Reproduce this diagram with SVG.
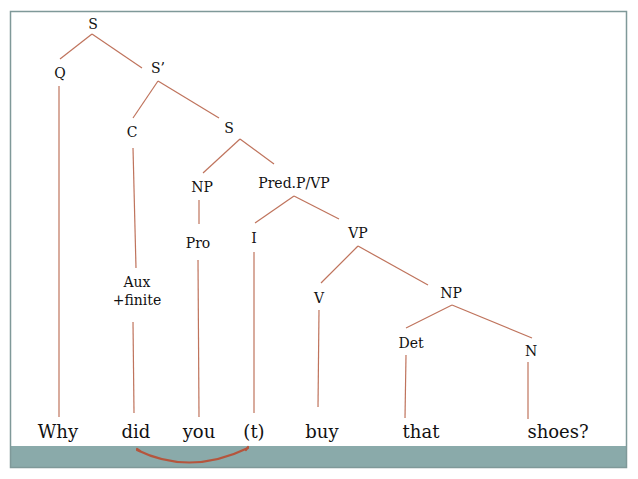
<svg xmlns="http://www.w3.org/2000/svg" width="638" height="479" viewBox="0 0 638 479">
<style>
.frame{fill:none;stroke:#7f9999;stroke-width:1.5}
.band{fill:#8aaaaa}
.edge{stroke:#bf735c;stroke-width:1.2;fill:none}
.lbl{font-family:"DejaVu Serif","Liberation Serif",serif;font-size:14px;fill:#111;text-anchor:middle}
.word{font-family:"DejaVu Serif","Liberation Serif",serif;font-size:18px;fill:#111;text-anchor:middle}
.move{stroke:#b5553d;stroke-width:2.2;fill:none;stroke-linecap:round}
</style>
<rect x="0" y="0" width="638" height="479" fill="#fff"/>
<rect class="band" x="10" y="446" width="617" height="22"/>
<rect class="frame" x="10.5" y="11.5" width="616" height="456"/>
<g id="connectors">
<line class="edge" x1="92" y1="34" x2="60" y2="59"/>
<line class="edge" x1="92" y1="34" x2="142" y2="68"/>
<line class="edge" x1="158" y1="81" x2="133" y2="118"/>
<line class="edge" x1="158" y1="81" x2="219" y2="118"/>
<line class="edge" x1="240" y1="139" x2="203" y2="173"/>
<line class="edge" x1="240" y1="139" x2="274" y2="164"/>
<line class="edge" x1="199" y1="200" x2="199" y2="224"/>
<line class="edge" x1="294" y1="196" x2="255" y2="223"/>
<line class="edge" x1="294" y1="196" x2="339" y2="219"/>
<line class="edge" x1="358" y1="246" x2="321" y2="283"/>
<line class="edge" x1="358" y1="246" x2="428" y2="285"/>
<line class="edge" x1="452" y1="305" x2="406" y2="328"/>
<line class="edge" x1="452" y1="305" x2="532" y2="338"/>
<line class="edge" x1="59" y1="86" x2="59" y2="417"/>
<line class="edge" x1="133" y1="148" x2="136" y2="268"/>
<line class="edge" x1="133" y1="322" x2="134" y2="413"/>
<line class="edge" x1="198" y1="260" x2="199" y2="417"/>
<line class="edge" x1="254" y1="252" x2="254" y2="413"/>
<line class="edge" x1="319" y1="310" x2="318" y2="407"/>
<line class="edge" x1="406" y1="355" x2="405" y2="418"/>
<line class="edge" x1="528" y1="362" x2="528" y2="419"/>
<path class="move" d="M137 450 Q190 476 248 448"/>
<path class="move" d="M137 449 l3 2 M248 447 l-2 3" stroke-width="3"/>
</g>
<g id="n-S"><text class="lbl" x="93" y="29">S</text></g>
<g id="n-Q"><text class="lbl" x="60" y="78">Q</text></g>
<g id="n-S1"><text class="lbl" x="158" y="73">S’</text></g>
<g id="n-C"><text class="lbl" x="132" y="137">C</text></g>
<g id="n-S2"><text class="lbl" x="229" y="133">S</text></g>
<g id="n-NP1"><text class="lbl" x="202" y="192">NP</text></g>
<g id="n-PredP"><text class="lbl" x="294" y="188">Pred.P/VP</text></g>
<g id="n-Pro"><text class="lbl" x="198" y="248">Pro</text></g>
<g id="n-I"><text class="lbl" x="254" y="243">I</text></g>
<g id="n-VP"><text class="lbl" x="358" y="238">VP</text></g>
<g id="n-Aux"><text class="lbl" x="137" y="287">Aux</text><text class="lbl" x="137" y="305">+finite</text></g>
<g id="n-V"><text class="lbl" x="319" y="303">V</text></g>
<g id="n-NP2"><text class="lbl" x="451" y="298">NP</text></g>
<g id="n-Det"><text class="lbl" x="411" y="348">Det</text></g>
<g id="n-N"><text class="lbl" x="531" y="356">N</text></g>
<g id="w-why"><text class="word" x="58" y="438">Why</text></g>
<g id="w-did"><text class="word" x="136" y="438">did</text></g>
<g id="w-you"><text class="word" x="199" y="438">you</text></g>
<g id="w-t"><text class="word" x="254" y="438">(t)</text></g>
<g id="w-buy"><text class="word" x="322" y="438">buy</text></g>
<g id="w-that"><text class="word" x="421" y="438">that</text></g>
<g id="w-shoes"><text class="word" x="558" y="438">shoes?</text></g>
</svg>
